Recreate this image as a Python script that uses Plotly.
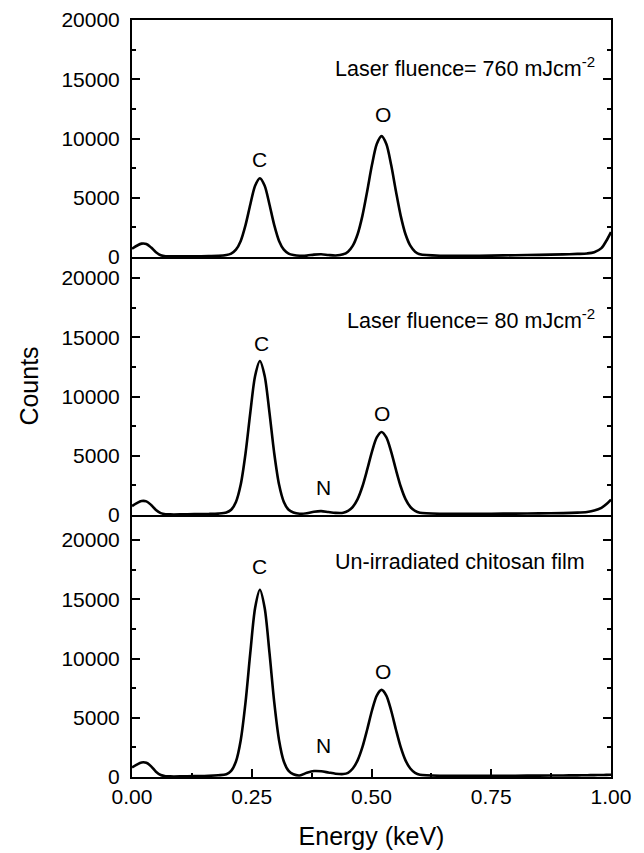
import plotly.graph_objects as go

# Energy grid (keV)
energy = [0.000, 0.010, 0.020, 0.030, 0.040, 0.050, 0.060, 0.070, 0.080, 0.100, 0.130, 0.160, 0.180,
          0.197, 0.207, 0.217, 0.227, 0.237, 0.247, 0.257, 0.267, 0.277, 0.287, 0.297, 0.307, 0.317, 0.327, 0.337,
          0.350, 0.365, 0.380, 0.395, 0.410, 0.425, 0.441,
          0.451, 0.461, 0.471, 0.481, 0.491, 0.501, 0.511, 0.521, 0.531, 0.541, 0.551, 0.561, 0.571, 0.581, 0.591, 0.601,
          0.650, 0.700, 0.750, 0.800, 0.850, 0.900, 0.930, 0.950, 0.965, 0.980, 0.990, 1.000]

# Counts, laser fluence 760 mJ/cm2 (top panel)
counts_760 = [700, 950, 1130, 1100, 800, 400, 150, 60, 50, 50, 60, 80, 100,
              170, 290, 620, 1360, 2690, 4430, 6010, 6650, 6010, 4430, 2690, 1360, 620, 290, 170,
              110, 120, 200, 230, 170, 130, 225,
              450, 955, 1918, 3470, 5548, 7777, 9530, 10200, 9530, 7777, 5548, 3470, 1918, 955, 450, 225,
              100, 100, 120, 150, 180, 220, 260, 300, 400, 750, 1350, 2100]

# Counts, laser fluence 80 mJ/cm2 (middle panel)
counts_80 = [750, 1000, 1180, 1150, 850, 430, 160, 70, 50, 50, 70, 90, 120,
             210, 440, 1100, 2570, 5190, 8633, 11735, 13000, 11735, 8633, 5190, 2570, 1100, 440, 210,
             110, 150, 280, 330, 250, 180, 186,
             339, 684, 1342, 2403, 3822, 5345, 6543, 7000, 6543, 5345, 3822, 2403, 1342, 684, 339, 186,
             100, 100, 110, 120, 140, 160, 200, 260, 370, 600, 900, 1300]

# Counts, un-irradiated chitosan film (bottom panel)
counts_unirr = [800, 1050, 1230, 1200, 900, 450, 170, 70, 50, 50, 70, 100, 150,
                230, 510, 1310, 3107, 6295, 10486, 14260, 15800, 14260, 10486, 6295, 3107, 1310, 510, 230,
                130, 350, 500, 480, 380, 280, 250,
                352, 714, 1405, 2519, 4011, 5611, 6869, 7350, 6869, 5611, 4011, 2519, 1405, 714, 352, 190,
                100, 100, 100, 110, 120, 130, 140, 150, 160, 170, 180, 190]

panel_titles = ["Laser fluence= 760 mJcm<sup>-2</sup>",
                "Laser fluence= 80 mJcm<sup>-2</sup>",
                "Un-irradiated chitosan film"]

# peak labels: (text, energy, counts, panel yaxis)
peak_labels = ["C", "O", "C", "N", "O", "C", "N", "O"]
peak_x = [0.267, 0.523, 0.271, 0.399, 0.521, 0.267, 0.399, 0.523]
peak_y = [8200, 12000, 14500, 2300, 8600, 17750, 2700, 8900]
peak_axis = ["y3", "y3", "y2", "y2", "y2", "y", "y", "y"]

FONT = "Liberation Sans, Arial, sans-serif"
BLACK = "black"

fig = go.Figure()
series = [(counts_unirr, "x", "y"), (counts_80, "x2", "y2"), (counts_760, "x3", "y3")]
for ys, xa, ya in series:
    fig.add_trace(go.Scatter(x=energy, y=ys, xaxis=xa, yaxis=ya, mode="lines",
                             line=dict(color=BLACK, width=2.6, shape="spline", smoothing=0.8),
                             showlegend=False, hoverinfo="skip"))

H = 757.0
d_bot = 262 / H
d_mid = 520 / H

yax_common = dict(dtick=5000, tick0=0, tickformat="d", exponentformat="none",
                  ticks="inside", ticklen=8, tickwidth=2, tickcolor=BLACK,
                  minor=dict(ticks="inside", ticklen=4, tickwidth=2, tickcolor=BLACK, dtick=2500, tick0=0),
                  showline=True, linewidth=2, linecolor=BLACK, mirror="ticks",
                  showgrid=False, zeroline=False, tickfont=dict(size=21, family=FONT, color=BLACK),
                  ticklabelstandoff=6, fixedrange=True, automargin=False)
xax_hidden = dict(range=[0, 1], showline=True, linewidth=2, linecolor=BLACK, ticks="",
                  showticklabels=False, showgrid=False, zeroline=False, fixedrange=True, automargin=False)

fig.update_layout(
    width=644, height=853,
    margin=dict(l=132, r=33, t=20, b=76),
    paper_bgcolor="white", plot_bgcolor="white",
    font=dict(family=FONT, color=BLACK, size=21),
    xaxis=dict(domain=[0, 1], anchor="y", range=[0, 1], dtick=0.25, tick0=0, tickformat=".2f",
               ticks="inside", ticklen=8, tickwidth=2, tickcolor=BLACK,
               minor=dict(ticks="inside", ticklen=4, tickwidth=2, tickcolor=BLACK, dtick=0.125, tick0=0),
               showline=True, linewidth=2, linecolor=BLACK, showgrid=False, zeroline=False,
               tickfont=dict(size=21, family=FONT, color=BLACK), fixedrange=True, automargin=False,
               title=dict(text="Energy (keV)", font=dict(size=25, family=FONT, color=BLACK), standoff=20)),
    xaxis2=dict(domain=[0, 1], anchor="y2", **xax_hidden),
    xaxis3=dict(domain=[0, 1], anchor="y3", mirror=True, **xax_hidden),
    yaxis=dict(domain=[0, d_bot], anchor="x", range=[0, 22110], **yax_common),
    yaxis2=dict(domain=[d_bot, d_mid], anchor="x2", range=[0, 21772],
                title=dict(text="Counts", font=dict(size=25, family=FONT, color=BLACK), standoff=16),
                **yax_common),
    yaxis3=dict(domain=[d_mid, 1], anchor="x3", range=[0, 20000], **yax_common),
)

# panel titles
title_pos = [(0.971, 16000, "y3"), (0.971, 16500, "y2"), (0.950, 18150, "y")]
for txt, (tx, ty, ya) in zip(panel_titles, title_pos):
    fig.add_annotation(text=txt, x=tx, y=ty, xref="x", yref=ya, xanchor="right", yanchor="middle",
                       showarrow=False, font=dict(size=21.5, family=FONT, color=BLACK))

for t, px, py, ya in zip(peak_labels, peak_x, peak_y, peak_axis):
    fig.add_annotation(text=t, x=px, y=py, xref="x", yref=ya, xanchor="center", yanchor="middle",
                       showarrow=False, font=dict(size=21, family=FONT, color=BLACK))

fig.write_html("out.html")
